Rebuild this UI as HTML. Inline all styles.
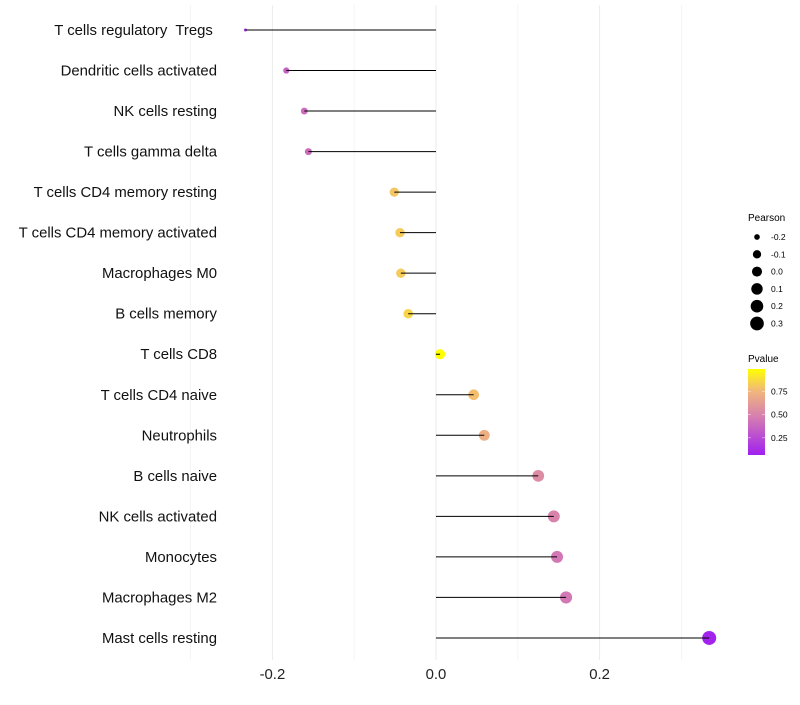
<!DOCTYPE html>
<html><head><meta charset="utf-8"><style>
body{margin:0;background:#fff;width:800px;height:700px;overflow:hidden;font-family:"Liberation Sans",sans-serif}
text{white-space:pre}
</style></head><body>
<svg id="chart" width="800" height="700" xmlns="http://www.w3.org/2000/svg" font-family="Liberation Sans, sans-serif">
<defs><linearGradient id="pg" x1="0" y1="1" x2="0" y2="0">
<stop offset="0" stop-color="#a020f0"/><stop offset="0.45" stop-color="#d67fb0"/><stop offset="0.75" stop-color="#f2b87a"/><stop offset="1" stop-color="#ffff00"/></linearGradient></defs>
<g id="grid"></g>
<g id="marks"></g>
<g id="labels"></g>
<g>
<text x="748" y="221" font-size="10">Pearson</text>
<g id="sizeLegend"></g>
</g>
<g>
<text x="748" y="362" font-size="10">Pvalue</text>
<rect x="748" y="369" width="17" height="86" fill="url(#pg)"/>
<g id="cbTicks"></g>
</g>
</svg>
<script>
const categories=["T cells regulatory  Tregs ","Dendritic cells activated","NK cells resting","T cells gamma delta","T cells CD4 memory resting","T cells CD4 memory activated","Macrophages M0","B cells memory","T cells CD8","T cells CD4 naive","Neutrophils","B cells naive","NK cells activated","Monocytes","Macrophages M2","Mast cells resting"];
const pearson=[-0.233,-0.183,-0.161,-0.156,-0.051,-0.044,-0.043,-0.034,0.005,0.046,0.059,0.125,0.144,0.148,0.159,0.334];
const pvalue=[0.15,0.35,0.4,0.4,0.8,0.82,0.82,0.85,0.99,0.78,0.72,0.55,0.5,0.45,0.45,0.08];
const xTicks=[-0.2,0,0.2];
const xTickLabels=["-0.2","0.0","0.2"];
const sizeBreaks=[-0.2,-0.1,0,0.1,0.2,0.3];
const cbBreaks=[0.25,0.5,0.75];
const NS="http://www.w3.org/2000/svg";
const X=v=>436+v*818;
const Y=i=>30+i*40.53;
const vmin=Math.min(...pearson),vmax=Math.max(...pearson);
const R=v=>1.5+5.5*Math.sqrt(Math.max(0,(v-vmin)/(vmax-vmin)));
const pmin=0.065,pmax=0.99;
function col(p){const t=(p-pmin)/(pmax-pmin);
 const st=[[0,[160,32,240]],[0.45,[214,127,176]],[0.75,[242,184,122]],[1,[255,255,0]]];
 for(let k=1;k<st.length;k++){if(t<=st[k][0]||k==st.length-1){const a=st[k-1],b=st[k];let u=(t-a[0])/(b[0]-a[0]);u=Math.max(0,Math.min(1,u));
 return `rgb(${a[1].map((c,j)=>Math.round(c+(b[1][j]-c)*u)).join(',')})`;}}}
function mk(tag,at,parent){const e=document.createElementNS(NS,tag);for(const k in at)e.setAttribute(k,at[k]);parent.appendChild(e);return e;}
const grid=document.getElementById('grid'),marks=document.getElementById('marks'),labels=document.getElementById('labels');
[-0.3,-0.1,0.1,0.3].forEach(v=>{const l=mk('line',{x1:X(v),x2:X(v),y1:5,y2:660,stroke:'#f2f2f2','stroke-width':0.8},grid);

});
xTicks.forEach((v,i)=>{const l=mk('line',{x1:X(v),x2:X(v),y1:5,y2:660,stroke:'#ebebeb','stroke-width':1},grid);


const t=mk('text',{x:X(v),y:679,'font-size':14.9,'text-anchor':'middle',fill:'#222'},labels);t.textContent=xTickLabels[i];

});
categories.forEach((c,i)=>{
const t=mk('text',{x:217,y:Y(i)+5,'font-size':14.9,'text-anchor':'end',fill:'#111'},labels);t.textContent=c;


const p=mk('circle',{cx:X(pearson[i]),cy:Y(i),r:R(pearson[i]),fill:col(pvalue[i])},marks);


const l=mk('line',{x1:X(0),x2:X(pearson[i]),y1:Y(i),y2:Y(i),stroke:'#000','stroke-width':1},marks);

});
const sl=document.getElementById('sizeLegend');
sizeBreaks.forEach((v,i)=>{const y=237+i*17.3;
const c=mk('circle',{cx:757,cy:y,r:R(v),fill:'#000'},sl);


const t=mk('text',{x:771,y:y+3,'font-size':8.5},sl);t.textContent=v.toFixed(1);

});
const cb=document.getElementById('cbTicks');
cbBreaks.forEach(v=>{const y=455-(v-pmin)/(pmax-pmin)*86;
mk('line',{x1:748,x2:751,y1:y,y2:y,stroke:'#fff','stroke-width':0.6,opacity:0.7},cb);
mk('line',{x1:762,x2:765,y1:y,y2:y,stroke:'#fff','stroke-width':0.6,opacity:0.7},cb);
const t=mk('text',{x:771,y:y+3,'font-size':8.5},cb);t.textContent=v.toFixed(2);

});
</script>
</body></html>
